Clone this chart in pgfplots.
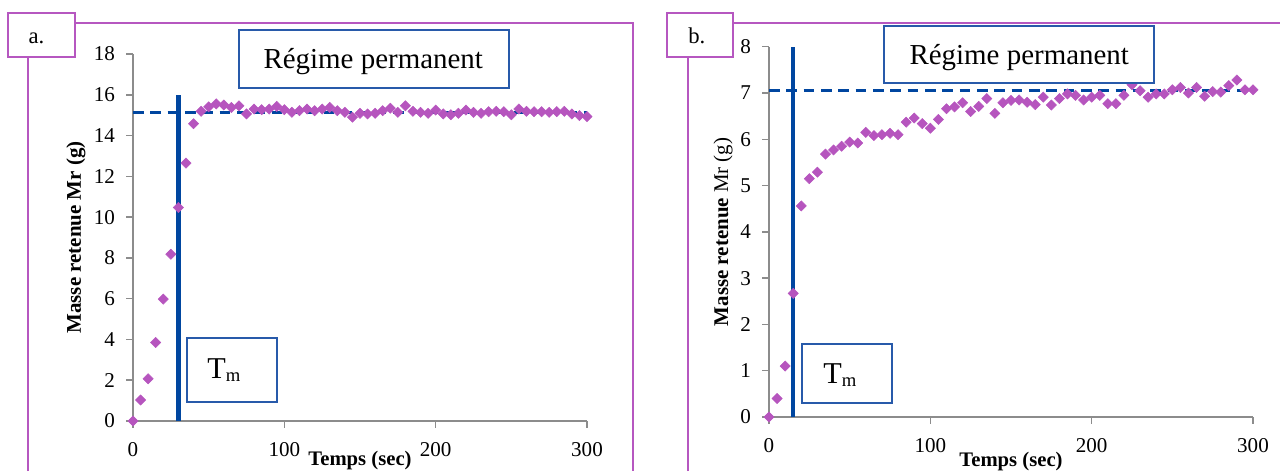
\documentclass[border=0pt]{standalone}
\usepackage{fontspec}
\setmainfont{Liberation Serif}
\usepackage{pgfplots}
\pgfplotsset{compat=1.18}
\usepackage{pgfplotstable}
\definecolor{frm}{RGB}{182,87,192}
\definecolor{mk}{RGB}{182,85,190}
\definecolor{bl}{RGB}{0,70,160}
\definecolor{bx}{RGB}{40,90,170}
\definecolor{axc}{RGB}{140,140,140}

\pgfplotstableread{
t m
0 0
5 1.03
10 2.07
15 3.85
20 5.98
25 8.18
30 10.47
35 12.65
40 14.58
45 15.19
50 15.41
55 15.55
60 15.50
65 15.38
70 15.46
75 15.06
80 15.30
85 15.27
90 15.30
95 15.43
100 15.27
105 15.14
110 15.22
115 15.30
120 15.22
125 15.30
130 15.38
135 15.22
140 15.14
145 14.90
150 15.09
155 15.06
160 15.09
165 15.22
170 15.34
175 15.14
180 15.46
185 15.19
190 15.14
195 15.09
200 15.25
205 15.06
210 15.02
215 15.09
220 15.25
225 15.14
230 15.09
235 15.17
240 15.19
245 15.17
250 15.02
255 15.30
260 15.19
265 15.17
270 15.17
275 15.14
280 15.17
285 15.19
290 15.06
295 14.98
300 14.93
}\dataA

\pgfplotstableread{
t m
0 0
5 0.40
10 1.10
15 2.67
20 4.56
25 5.15
30 5.29
35 5.68
40 5.77
45 5.85
50 5.94
55 5.92
60 6.15
65 6.08
70 6.10
75 6.13
80 6.10
85 6.37
90 6.46
95 6.34
100 6.24
105 6.43
110 6.66
115 6.70
120 6.79
125 6.60
130 6.71
135 6.88
140 6.56
145 6.79
150 6.84
155 6.85
160 6.80
165 6.75
170 6.91
175 6.74
180 6.88
185 6.98
190 6.95
195 6.85
200 6.91
205 6.95
210 6.77
215 6.77
220 6.95
225 7.18
230 7.05
235 6.91
240 6.98
245 6.98
250 7.07
255 7.12
260 7.00
265 7.12
270 6.93
275 7.03
280 7.02
285 7.16
290 7.28
295 7.07
300 7.07
}\dataB

\pgfplotsset{
  mystyle/.style={
    scale only axis,
    axis lines*=left,
    axis line style={draw=axc, line width=1.1pt},
    every tick/.style={draw=axc, line width=1.1pt},
    tick align=outside,
    major tick length=5pt,
    xmin=0, xmax=300,
    xtick={0,100,200,300},
    clip=false,
    /pgf/number format/assume math mode=true,
    ticklabel style={font=\fontsize{15.8}{18}\selectfont},
    xticklabel style={yshift=-7.5pt},
    yticklabel style={xshift=-5pt},
    xlabel style={font=\fontsize{15.5}{18}\selectfont\bfseries, anchor=base},
    ylabel style={font=\fontsize{15.7}{18}\selectfont, anchor=center},
  },
  marks/.style={only marks, mark=square*, mark size=2.7pt,
    mark options={rotate=45, fill=mk, draw=mk, line width=0.4pt}},
}

\begin{document}
\begin{tikzpicture}

\begin{scope}[x=0.75pt,y=0.75pt]
\draw[frm, line width=1.5pt] (28,0) -- (28,448) -- (633,448) -- (633,0);
\draw[frm, line width=1.5pt] (687.7,0) -- (687.7,448) -- (1280,448);
\end{scope}

% panel a
\begin{axis}[mystyle,
  at={(99.75pt,37.5pt)}, anchor=south west,
  width=340.5pt, height=275.25pt,
  ymin=0, ymax=18, ytick={0,2,...,18},
  xlabel={Temps (sec)},
  xlabel style={at={(axis description cs:0.5,-0.1226)}},
  ylabel={\bfseries Masse retenue Mr (g)},
  ylabel style={at={(axis description cs:-0.1256,0.5)}},
]
\addplot[bl, line width=2.2pt, dash pattern=on 8pt off 5pt] coordinates {(0,15.15) (300,15.15)};
\addplot[bl, line width=3.4pt] coordinates {(30,0) (30,16)};
\addplot[marks] table[x=t, y=m] {\dataA};
\end{axis}

% panel b
\begin{axis}[mystyle,
  at={(576.75pt,40.5pt)}, anchor=south west,
  width=363pt, height=277.7pt,
  ymin=0, ymax=8, ytick={0,1,...,8},
  xlabel={Temps (sec)},
  xlabel style={at={(axis description cs:0.5,-0.134)}},
  ylabel={\textbf{Masse retenue} Mr (g)},
  ylabel style={at={(axis description cs:-0.095,0.5)}},
]
\addplot[bl, line width=2.2pt, dash pattern=on 8pt off 5pt] coordinates {(0,7.05) (300,7.05)};
\addplot[bl, line width=3.4pt] coordinates {(15,0) (15,8)};
\addplot[marks] table[x=t, y=m] {\dataB};
\end{axis}

\begin{scope}[x=0.75pt,y=0.75pt]
% label boxes
\draw[frm, line width=1.5pt, fill=white] (8,414) rectangle (75,458);
\node[anchor=base west, inner sep=0, font=\fontsize{17}{20}\selectfont] at (28.3,427) {a.};
\draw[frm, line width=1.5pt, fill=white] (666.7,414) rectangle (733.3,458);
\node[anchor=base west, inner sep=0, font=\fontsize{17}{20}\selectfont] at (688,427.7) {b.};

% text boxes
\draw[bx, line width=1.5pt, fill=white] (238.7,441) rectangle (509,383.3);
\node[anchor=base west, inner sep=0, font=\fontsize{21.7}{24}\selectfont] at (263.3,402.7) {Régime permanent};
\draw[bx, line width=1.5pt, fill=white] (884.3,445) rectangle (1154,387.7);
\node[anchor=base west, inner sep=0, font=\fontsize{21.7}{24}\selectfont] at (909.3,406) {Régime permanent};

\draw[bx, line width=1.5pt, fill=white] (186.7,132.7) rectangle (276.7,68.7);
\node[anchor=base west, inner sep=0, font=\fontsize{22.7}{26}\selectfont] at (207,93) {T\raisebox{-2.5pt}{\fontsize{14}{16}\selectfont m}};
\draw[bx, line width=1.5pt, fill=white] (802.3,127) rectangle (892.3,68.3);
\node[anchor=base west, inner sep=0, font=\fontsize{22.7}{26}\selectfont] at (823,88) {T\raisebox{-2.5pt}{\fontsize{14}{16}\selectfont m}};

\pgfresetboundingbox
\useasboundingbox (0,0) rectangle (1280,471);
\end{scope}
\end{tikzpicture}
\end{document}
